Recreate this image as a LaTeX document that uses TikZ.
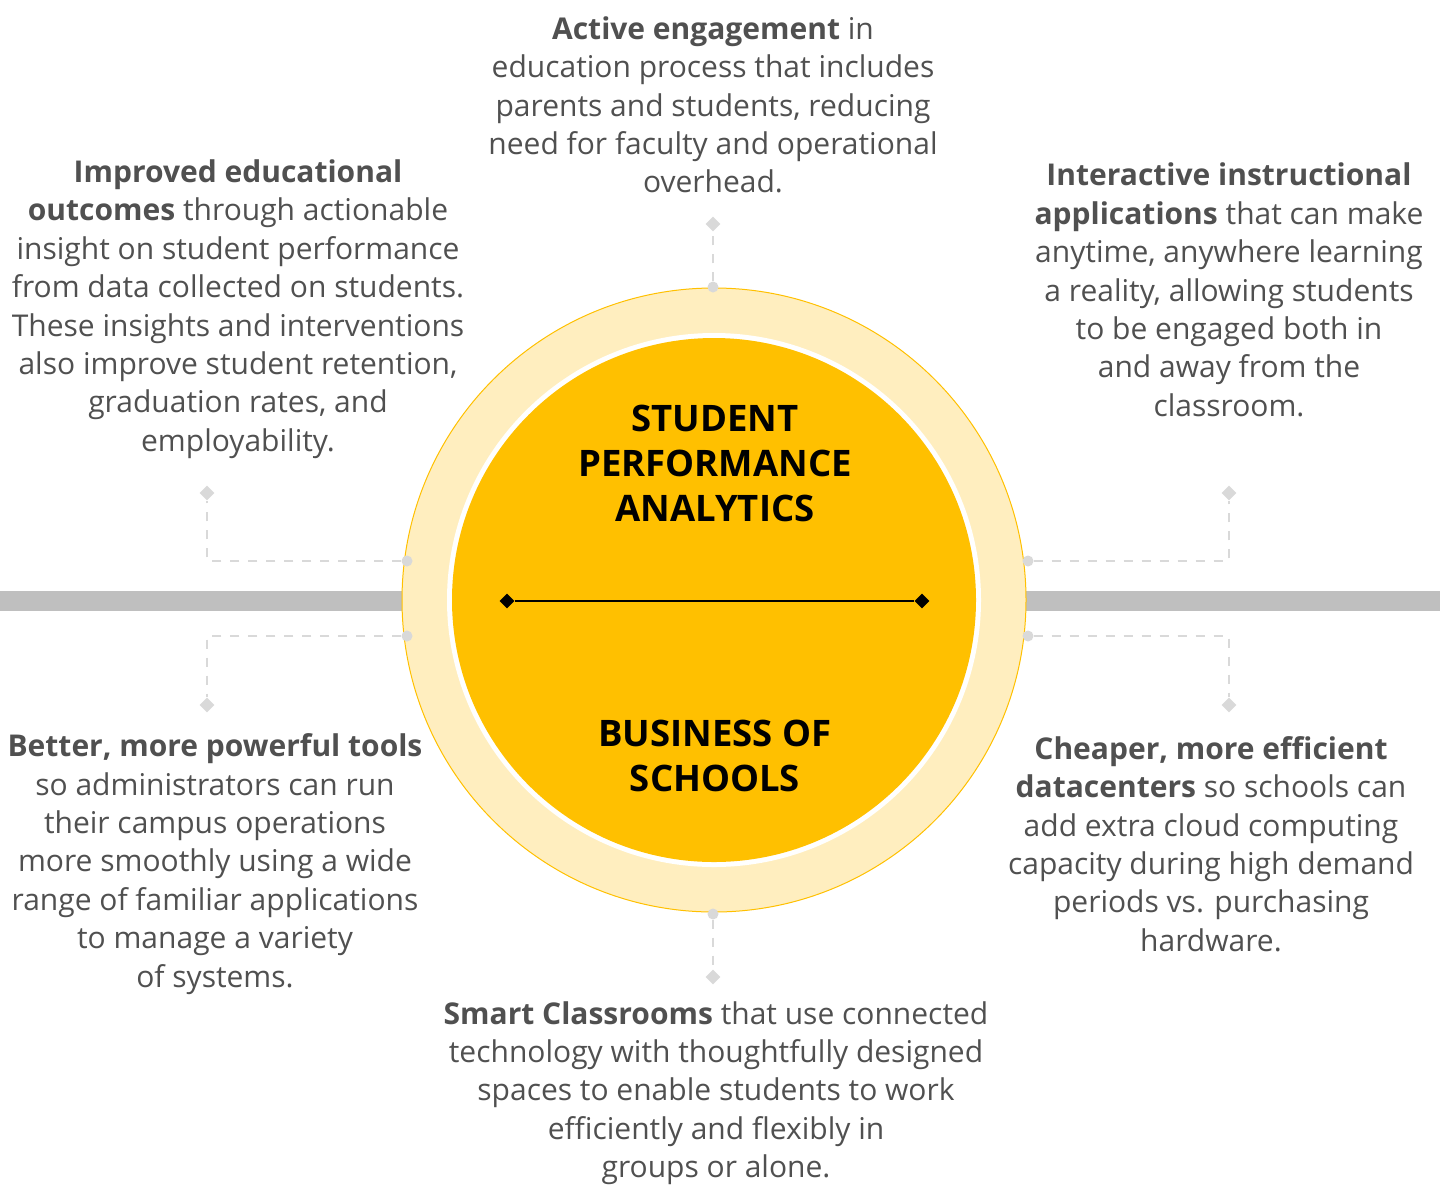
\documentclass[tikz,border=0pt]{standalone}
\usepackage{fontspec}
\setmainfont{Open Sans}
\usepackage{tikz}
\usetikzlibrary{shapes.geometric,positioning,calc}
\definecolor{Amber}{HTML}{FFC000}
\definecolor{PaleAmber}{HTML}{FFEEBF}
\definecolor{BarGray}{HTML}{BFBFBF}
\definecolor{LinkGray}{HTML}{D9D9D9}
\definecolor{TextGray}{HTML}{505050}

\begin{document}
\begin{tikzpicture}[x=1pt,y=-1pt,
    blurb/.style={align=center,text=TextGray,inner sep=0pt,font=\fontsize{30}{38.4}\selectfont},
    heading/.style={align=center,text=black,inner sep=0pt,font=\fontsize{36.5}{45}\selectfont\bfseries},
    link/.style={draw=LinkGray,line width=2.2pt,dash pattern=on 9pt off 9pt},
    knob/.style={circle,fill=LinkGray,inner sep=0pt,minimum size=11pt},
    tip/.style={diamond,fill=LinkGray,inner sep=0pt,minimum size=15pt},
    pin/.style={diamond,fill=black,inner sep=0pt,minimum size=15pt}]

    \useasboundingbox (0,0) rectangle (1440,1187);

    % the bar behind the disc
    \fill[BarGray] (0,591) rectangle (1440,611);

    \node[circle,fill=PaleAmber,draw=Amber,line width=1pt,minimum size=624pt,inner sep=0pt] (ring) at (714,600) {};
    \node[circle,fill=white,minimum size=534pt,inner sep=0pt] (gap) at (714,600) {};
    \node[circle,fill=Amber,minimum size=524pt,inner sep=0pt] (core) at (714,600) {};

    \node[pin] (pinL) at (507,601) {};
    \node[pin] (pinR) at (922,601) {};
    \draw[line width=2.5pt] (pinL) -- (pinR);

    \node[heading] (upper) at (715,463) {STUDENT\\PERFORMANCE\\ANALYTICS};
    \node[heading] (lower) at (715,756) {BUSINESS OF\\SCHOOLS};

    % knobs on the ring and the diamonds they lead to
    \node[knob] (kT) at (713,287) {};
    \node[knob] (kB) at (713,914) {};
    \node[knob] (kUL) at (407,561) {};
    \node[knob] (kLL) at (407,636) {};
    \node[knob] (kUR) at (1028,561) {};
    \node[knob] (kLR) at (1028,636) {};

    \node[tip] (dT) at (713,224) {};
    \node[tip] (dB) at (713,977) {};
    \node[tip] (dUL) at (207,493) {};
    \node[tip] (dLL) at (207,705) {};
    \node[tip] (dUR) at (1229,493) {};
    \node[tip] (dLR) at (1229,705) {};

    \draw[link] (kT) -- (dT);
    \draw[link] (kB) -- (dB);
    \draw[link] (kUL) -| (dUL);
    \draw[link] (kLL) -| (dLL);
    \draw[link] (kUR) -| (dUR);
    \draw[link] (kLR) -| (dLR);

    \node[blurb] (engage) at (713,105) {\textbf{Active engagement} in\\education process that includes\\parents and students, reducing\\need for faculty and operational\\overhead.};
    \node[blurb] (outcomes) at (238,309) {\textbf{Improved educational}\\\textbf{outcomes} through actionable\\insight on student performance\\from data collected on students.\\These insights and interventions\\also improve student retention,\\graduation rates, and\\employability.};
    \node[blurb] (apps) at (1229,290) {\textbf{Interactive instructional}\\\textbf{applications} that can make\\anytime, anywhere learning\\a reality, allowing students\\to be engaged both in\\and away from the\\classroom.};
    \node[blurb] (tools) at (215,864) {\textbf{Better, more powerful tools}\\so administrators can run\\their campus operations\\more smoothly using a wide\\range of familiar applications\\to manage a variety\\of systems.};
    \node[blurb] (centers) at (1211,844) {\textbf{Cheaper, more efficient}\\\textbf{datacenters} so schools can\\add extra cloud computing\\capacity during high demand\\periods vs. purchasing\\hardware.};
    \node[blurb] (rooms) at (716,1093) {\textbf{Smart Classrooms} that use connected\\technology with thoughtfully designed\\spaces to enable students to work\\efficiently and flexibly in\\groups or alone.};
\end{tikzpicture}
\end{document}
